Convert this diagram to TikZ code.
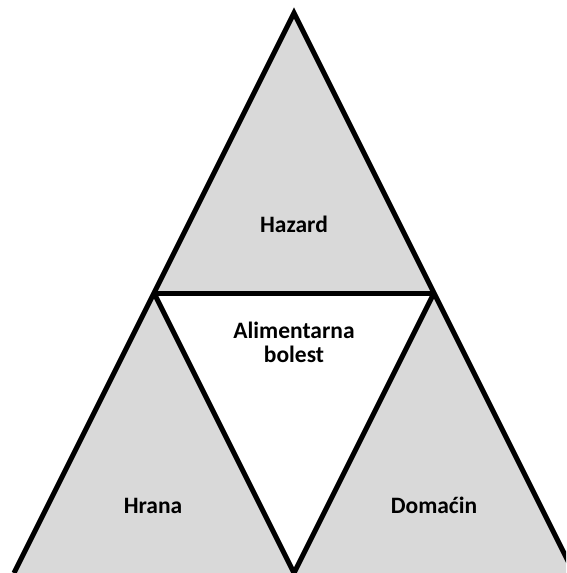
\documentclass[tikz,border=0pt]{standalone}
\usepackage{fontspec}
\setmainfont{Carlito}
\usepackage{tikz}
\usetikzlibrary{positioning}
\definecolor{sidegray}{HTML}{D9D9D9}

\begin{document}
\begin{tikzpicture}[x=1pt,y=-1pt,line width=5pt,line join=miter,
  txt/.style={font=\bfseries\fontsize{23.5}{23.5}\selectfont,align=center,anchor=base,inner sep=0pt}]
  \useasboundingbox (0,0) rectangle (566,573);
  \clip (0,0) rectangle (566,573);
  \coordinate (top) at (294,13);
  \coordinate (ml) at (154,293);
  \coordinate (mr) at (434,293);
  \coordinate (bl) at (14,573);
  \coordinate (bm) at (294,573);
  \coordinate (br) at (574,573);
  \fill[sidegray] (top)--(ml)--(mr)--cycle;
  \fill[sidegray] (ml)--(bl)--(bm)--cycle;
  \fill[sidegray] (mr)--(bm)--(br)--cycle;
  \draw (bl)--(top)--(br);
  \draw (ml)--(mr);
  \draw (ml)--(bm)--(mr);
  \node[txt] (hazard) at (294,232) {Hazard};
  \node[txt] (bolest) at (294,362) {Alimentarna\\bolest};
  \node[txt] (hrana) at (153,513) {Hrana};
  \node[txt] (domacin) at (434,513) {Domaćin};
\end{tikzpicture}
\end{document}
